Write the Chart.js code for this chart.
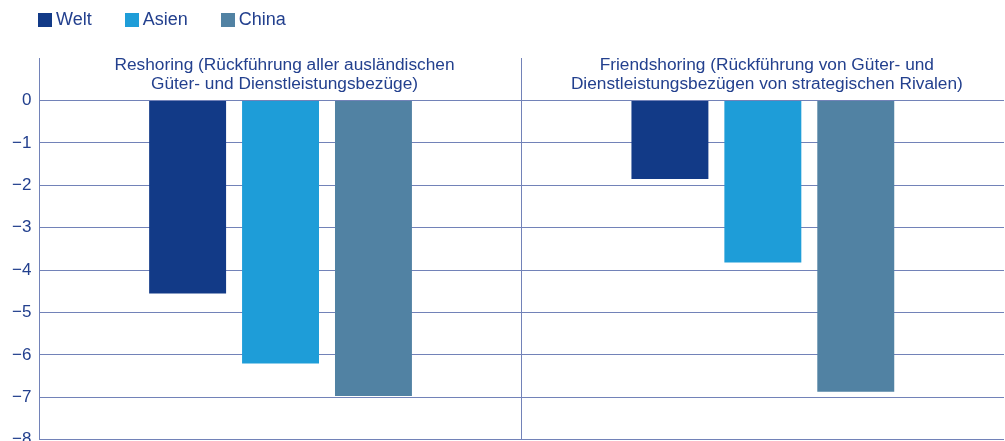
<!DOCTYPE html>
<html>
<head>
<meta charset="utf-8">
<script src="https://cdn.jsdelivr.net/npm/chart.js@4.4.1/dist/chart.umd.min.js"></script>
<style>
  html, body { margin: 0; padding: 0; background: #fff; overflow: hidden; }
  #wrap { position: relative; width: 1005px; height: 458px; }
  #legend { position: absolute; left: 38px; top: 9px; display: flex; font-family: "Liberation Sans", Arial, sans-serif; font-size: 18px; color: #23408e; }
  #legend .item { display: flex; align-items: center; margin-right: 33px; }
  #legend .box { width: 14px; height: 14px; margin-right: 4px; }
</style>
</head>
<body>
<div id="wrap">
  <div id="legend"></div>
  <canvas id="chart" width="1005" height="458"></canvas>
</div>
<script>
var categories = [
  ["Reshoring (Rückführung aller ausländischen", "Güter- und Dienstleistungsbezüge)"],
  ["Friendshoring (Rückführung von Güter- und", "Dienstleistungsbezügen von strategischen Rivalen)"]
];
var seriesNames = ["Welt", "Asien", "China"];
var welt = [-4.55, -1.85];
var asien = [-6.2, -3.82];
var china = [-6.97, -6.87];
var yTicks = [0, -1, -2, -3, -4, -5, -6, -7, -8];

var colors = ["#123a87", "#1e9dd8", "#5182a3"];
var textColor = "#23408e";
var lineColor = "#7282b8";
var fontFamily = '"Liberation Sans", Arial, sans-serif';

// legend above the plot
var legendEl = document.getElementById("legend");
seriesNames.forEach(function (name, i) {
  var item = document.createElement("span");
  item.className = "item";
  var box = document.createElement("span");
  box.className = "box";
  box.style.background = colors[i];
  item.appendChild(box);
  item.appendChild(document.createTextNode(name));
  legendEl.appendChild(item);
});

// category titles sit inside the plot, above the zero line
var categoryTitles = {
  id: "categoryTitles",
  afterDraw: function (chart) {
    var ctx = chart.ctx;
    var x = chart.scales.x;
    var top = chart.chartArea.top;
    ctx.save();
    ctx.fillStyle = textColor;
    ctx.font = "17.3px " + fontFamily;
    ctx.textAlign = "center";
    ctx.textBaseline = "middle";
    categories.forEach(function (lines, i) {
      var cx = x.getPixelForValue(i) + 4;
      lines.forEach(function (line, j) {
        ctx.fillText(line, cx, top + 7 + j * 19.5);
      });
    });
    ctx.restore();
  }
};

var ctx = document.getElementById("chart").getContext("2d");
var chart = new Chart(ctx, {
  type: "bar",
  data: {
    labels: categories.map(function (c) { return c.join(" "); }),
    datasets: [
      { label: seriesNames[0], data: welt, backgroundColor: colors[0] },
      { label: seriesNames[1], data: asien, backgroundColor: colors[1] },
      { label: seriesNames[2], data: china, backgroundColor: colors[2] }
    ]
  },
  options: {
    responsive: false,
    animation: false,
    categoryPercentage: 0.578,
    barPercentage: 0.828,
    layout: { padding: { top: 58, left: 4, right: 1 } },
    plugins: {
      legend: { display: false },
      tooltip: { enabled: false }
    },
    scales: {
      x: {
        ticks: { display: false },
        grid: {
          offset: true,
          drawTicks: false,
          lineWidth: 1,
          color: function (c) { return c.index === 1 ? lineColor : "rgba(0,0,0,0)"; }
        },
        border: { display: false }
      },
      y: {
        min: -8,
        max: 1,
        afterBuildTicks: function (axis) {
          axis.ticks = [1].concat(yTicks).map(function (v) { return { value: v }; });
        },
        ticks: {
          color: textColor,
          padding: 8,
          font: { family: fontFamily, size: 17 },
          callback: function (v) {
            if (v === 1) return "";
            return v < 0 ? "\u2212" + Math.abs(v) : String(v);
          }
        },
        grid: {
          drawTicks: false,
          color: function (c) { return c.tick && c.tick.value === 1 ? "rgba(0,0,0,0)" : lineColor; }
        },
        border: { color: lineColor }
      }
    }
  },
  plugins: [categoryTitles]
});
</script>
</body>
</html>
